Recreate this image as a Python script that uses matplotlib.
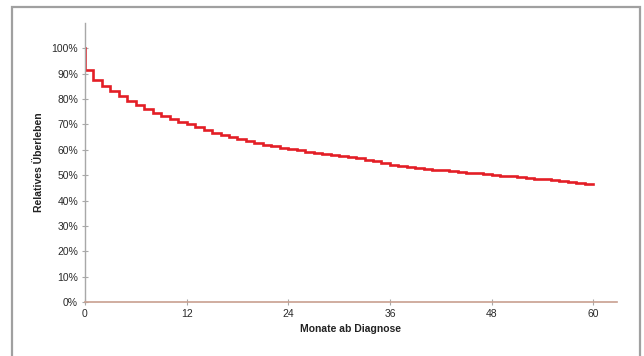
import matplotlib
matplotlib.use("Agg")
import matplotlib.pyplot as plt
from matplotlib.patches import Rectangle
from matplotlib.ticker import FuncFormatter

plt.rcParams['font.family'] = ['Liberation Sans', 'DejaVu Sans']

months = list(range(0, 61))
survival = [91.5, 87.5, 85.0, 83.0, 81.2, 79.3, 77.5, 76.0, 74.6, 73.3,
            72.2, 71.1, 70.0, 68.9, 67.8, 66.8, 65.9, 65.0, 64.2, 63.4,
            62.7, 62.0, 61.4, 60.8, 60.3, 59.8, 59.3, 58.9, 58.5, 58.1,
            57.6, 57.1, 56.6, 56.0, 55.4, 54.8, 54.2, 53.7, 53.3, 52.9,
            52.5, 52.2, 51.9, 51.6, 51.3, 51.0, 50.7, 50.4, 50.1, 49.8,
            49.5, 49.2, 48.9, 48.6, 48.3, 48.0, 47.6, 47.3, 47.0, 46.7,
            46.4]
start_value = 100.0
x_ticks = [0, 12, 24, 36, 48, 60]
y_ticks = [0, 10, 20, 30, 40, 50, 60, 70, 80, 90, 100]

fig = plt.figure(figsize=(6.44, 3.56), dpi=100)
ax = fig.add_axes([85/644, 54/356, 532/644, 279/356])

xs = [0] + months
ys = [start_value] + survival
ax.step(xs, ys, where='post', color='#e31e26', lw=1.9, solid_joinstyle='miter')

ax.set_xlim(0, 62.8)
ax.set_ylim(0, 110)
ax.set_xticks(x_ticks)
ax.set_yticks(y_ticks)
ax.yaxis.set_major_formatter(FuncFormatter(lambda v, p: f"{int(v)}%"))

for s in ['top', 'right']:
    ax.spines[s].set_visible(False)
ax.spines['left'].set_color('#a8a8a8')
ax.spines['bottom'].set_color('#c8a090')
ax.spines['left'].set_linewidth(1.0)
ax.spines['bottom'].set_linewidth(1.2)
ax.tick_params(axis='both', direction='inout', length=4, width=0.8,
               colors='#a8a8a8', labelcolor='#2a2a2a', labelsize=7.5, pad=3)

ax.set_ylabel('Relatives Überleben', fontsize=7.5, fontweight='bold', color='#222222', labelpad=5)
ax.set_xlabel('Monate ab Diagnose', fontsize=7.5, fontweight='bold', color='#222222', labelpad=4)

fig.patches.append(Rectangle((12/644, -0.1), 628/644, 1.1 - 7/356,
                             transform=fig.transFigure, fill=False,
                             edgecolor='#a0a0a0', lw=1.6))

fig.savefig('out.png', dpi=100)
